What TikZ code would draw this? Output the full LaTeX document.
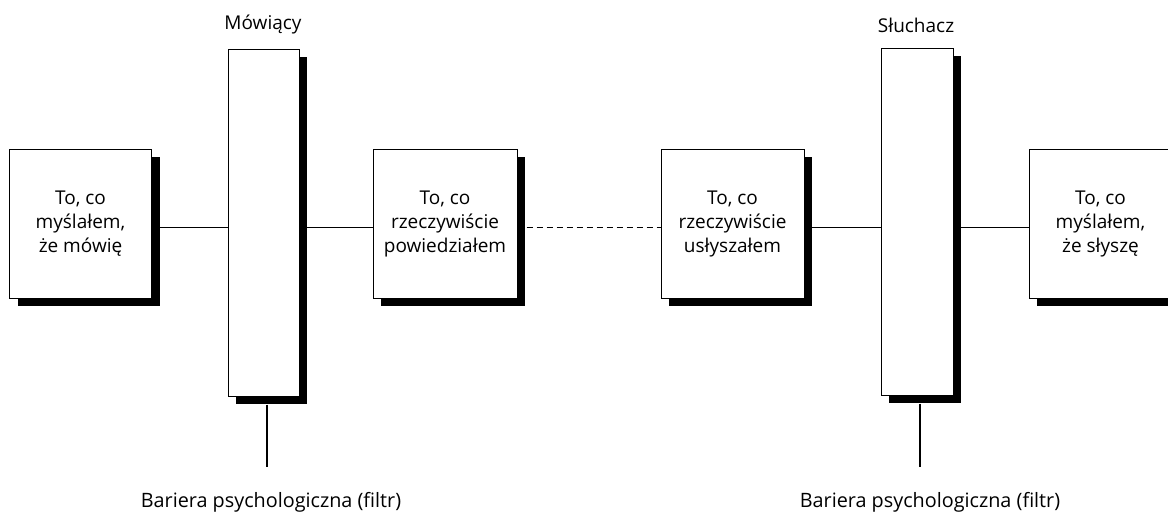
\documentclass[tikz,border=0pt]{standalone}
\usepackage{fontspec}
\setmainfont{Open Sans}
\usetikzlibrary{shadows}
\begin{document}
\begin{tikzpicture}[x=1pt,y=-1pt,
  shbox/.style={draw=black, line width=1pt, fill=white, rectangle, inner sep=0pt,
    drop shadow={fill=black, opacity=1, shadow xshift=8pt, shadow yshift=-8pt}},
  txtbox/.style={shbox, minimum width=142pt, minimum height=149pt, align=center,
    font=\fontsize{19}{24}\selectfont},
  barrier/.style={shbox, minimum width=71pt, minimum height=347pt},
  lbl/.style={font=\fontsize{19}{22}\selectfont, inner sep=0pt},
  flbl/.style={font=\fontsize{19.8}{22}\selectfont, inner sep=0pt},
  link/.style={line width=1pt},
  dlink/.style={line width=1pt, dash pattern=on 6pt off 4pt},
  stem/.style={line width=2pt}]
\useasboundingbox (0,0) rectangle (1168,512);
\clip (0,0) rectangle (1168,512);

\node[txtbox] (b1) at (80.5,223.5) {To, co\\myślałem,\\że mówię};
\node[barrier] (bar1) at (263.5,222.5) {};
\node[txtbox, minimum width=144pt] (b2) at (445,223.5) {To, co\\rzeczywiście\\powiedziałem};
\node[txtbox, minimum width=143pt] (b3) at (732.5,223.5) {To, co\\rzeczywiście\\usłyszałem};
\node[barrier, minimum width=72pt] (bar2) at (917,221.5) {};
\node[txtbox, minimum width=143pt] (b4) at (1100.5,223.5) {To, co\\myślałem,\\że słyszę};

\node[lbl] (t1) at (263,25) {Mówiący};
\node[lbl] (t2) at (916,25) {Słuchacz};
\node[flbl] (f1) at (271,502) {Bariera psychologiczna (filtr)};
\node[flbl] (f2) at (930,502) {Bariera psychologiczna (filtr)};

\coordinate (l1) at ([yshift=-3.5pt]b1.east);
\coordinate (l2) at ([yshift=-3.5pt]b2.west);
\coordinate (l3) at ([yshift=-3.5pt,xshift=9pt]b2.east);
\coordinate (l4) at ([yshift=-3.5pt]b3.east);
\coordinate (l5) at ([yshift=-3.5pt]b4.west);
\coordinate (s1) at ([yshift=-8pt]bar1.south);
\coordinate (s2) at ([yshift=-8pt]bar2.south);
\coordinate (e1) at (267,467);
\coordinate (e2) at (920,467);

\draw[link] (l1) -- (l1 -| bar1.west);
\draw[link] (l2 -| bar1.east) -- (l2);
\draw[dlink] (l3) -- (l3 -| b3.west);
\draw[link] (l4) -- (l4 -| bar2.west);
\draw[link] (l5 -| bar2.east) -- (l5);
\draw[stem] (s1 -| e1) -- (e1);
\draw[stem] (s2 -| e2) -- (e2);
\end{tikzpicture}
\end{document}
